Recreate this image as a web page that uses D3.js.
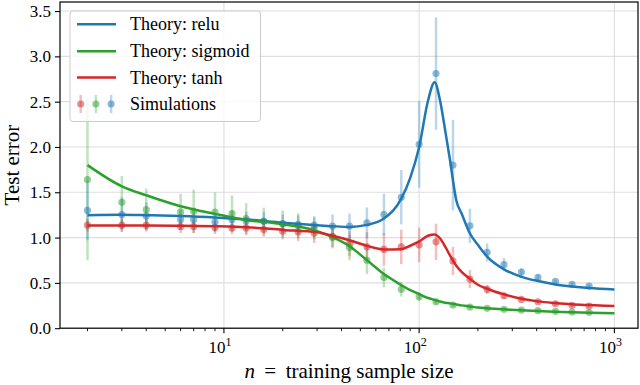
<!DOCTYPE html>
<html>
<head>
<meta charset="utf-8">
<script src="https://cdn.jsdelivr.net/npm/d3@7"></script>
<style>
  body { margin: 0; background: #fff; }
  svg { font-family: "Liberation Serif", "Times New Roman", serif; }
</style>
</head>
<body>
<svg id="chart" width="640" height="385"></svg>
<script>
// theory curves
const nTheory = [2, 3, 4, 6, 9, 13, 20, 30, 36, 44, 54, 66, 81, 90, 100, 111, 120, 128, 136, 144, 155, 165, 182, 200, 223, 272, 334, 406, 499, 607, 742, 1000];
const theoryRelu = [1.247, 1.252, 1.247, 1.238, 1.222, 1.2, 1.165, 1.137, 1.126, 1.118, 1.14, 1.21, 1.43, 1.66, 2.0, 2.51, 2.715, 2.51, 2.18, 1.85, 1.41, 1.265, 1.045, 0.92, 0.79, 0.65, 0.567, 0.52, 0.483, 0.46, 0.443, 0.428];
const theorySigmoid = [1.8, 1.566, 1.467, 1.346, 1.262, 1.195, 1.147, 1.072, 1.005, 0.905, 0.751, 0.597, 0.476, 0.42, 0.377, 0.333, 0.312, 0.295, 0.282, 0.274, 0.262, 0.252, 0.24, 0.228, 0.219, 0.208, 0.197, 0.189, 0.182, 0.175, 0.171, 0.164];
const theoryTanh = [1.133, 1.133, 1.133, 1.13, 1.125, 1.115, 1.085, 1.058, 1.02, 0.97, 0.909, 0.869, 0.872, 0.91, 0.958, 1.02, 1.035, 0.99, 0.9, 0.8, 0.69, 0.622, 0.545, 0.48, 0.435, 0.373, 0.325, 0.296, 0.277, 0.263, 0.255, 0.245];

// simulations (mean and half error bar)
const nSim = [2, 3, 4, 6, 7, 9, 11, 13, 16, 20, 24, 29, 36, 44, 54, 66, 81, 100, 122, 149, 182, 223, 272, 334, 406, 499, 607, 742];
const simRelu = [1.3, 1.254, 1.239, 1.2, 1.2, 1.173, 1.2, 1.184, 1.18, 1.155, 1.145, 1.137, 1.126, 1.126, 1.162, 1.254, 1.445, 2.03, 2.81, 1.8, 1.13, 0.836, 0.703, 0.619, 0.56, 0.516, 0.483, 0.465];
const errRelu = [0.33, 0.19, 0.15, 0.1, 0.1, 0.1, 0.1, 0.1, 0.1, 0.1, 0.1, 0.1, 0.13, 0.14, 0.17, 0.23, 0.3, 0.48, 0.62, 0.5, 0.19, 0.1, 0.07, 0.04, 0.03, 0.02, 0.02, 0.02];
const simSigmoid = [1.64, 1.39, 1.31, 1.283, 1.29, 1.28, 1.265, 1.21, 1.18, 1.15, 1.13, 1.1, 1.0, 0.89, 0.75, 0.56, 0.43, 0.347, 0.292, 0.255, 0.233, 0.219, 0.208, 0.2, 0.193, 0.186, 0.178, 0.175];
const errSigmoid = [0.89, 0.29, 0.23, 0.2, 0.24, 0.22, 0.2, 0.17, 0.15, 0.15, 0.14, 0.12, 0.12, 0.14, 0.15, 0.11, 0.08, 0.05, 0.03, 0.02, 0.02, 0.02, 0.02, 0.02, 0.02, 0.02, 0.02, 0.02];
const simTanh = [1.137, 1.137, 1.137, 1.12, 1.12, 1.11, 1.107, 1.107, 1.09, 1.07, 1.063, 1.05, 1.015, 0.935, 0.898, 0.869, 0.898, 0.92, 0.953, 0.743, 0.542, 0.428, 0.358, 0.318, 0.292, 0.27, 0.252, 0.244];
const errTanh = [0.07, 0.07, 0.07, 0.07, 0.07, 0.07, 0.07, 0.08, 0.08, 0.09, 0.1, 0.11, 0.12, 0.14, 0.16, 0.18, 0.19, 0.19, 0.2, 0.155, 0.1, 0.05, 0.03, 0.02, 0.02, 0.02, 0.02, 0.02];

const yTicks = [0, 0.5, 1.0, 1.5, 2.0, 2.5, 3.0, 3.5];
const xTicks = [10, 100, 1000];
const legendLabels = ["Theory: relu", "Theory: sigmoid", "Theory: tanh", "Simulations"];

const blue = "#1f77b4", green = "#2ca02c", red = "#d62728";

const series = [
  { name: "relu", color: blue, theory: theoryRelu, sim: simRelu, err: errRelu },
  { name: "sigmoid", color: green, theory: theorySigmoid, sim: simSigmoid, err: errSigmoid },
  { name: "tanh", color: red, theory: theoryTanh, sim: simTanh, err: errTanh },
];

const plotL = 60, plotR = 638, plotT = 2, plotB = 328.2;

const svg = d3.select("#chart");

const x = d3.scaleLog()
  .domain([Math.pow(10, 0.1603), Math.pow(10, 3.121)])
  .range([plotL, plotR]);
const y = d3.scaleLinear().domain([0, 3.6]).range([plotB, plotT]);

// grid
const grid = svg.append("g").attr("stroke", "#dedede").attr("stroke-width", 1.1);
grid.selectAll("line.gx").data(xTicks).enter().append("line")
  .attr("x1", (d) => x(d)).attr("x2", (d) => x(d))
  .attr("y1", plotT).attr("y2", plotB);
grid.selectAll("line.gy").data(yTicks).enter().append("line")
  .attr("y1", (d) => y(d)).attr("y2", (d) => y(d))
  .attr("x1", plotL).attr("x2", plotR);

// error bars then markers (drawn tanh, sigmoid, relu)
const simOrder = [series[2], series[1], series[0]];
simOrder.forEach((s) => {
  const g = svg.append("g");
  g.selectAll("line").data(nSim).enter().append("line")
    .attr("x1", (d) => x(d)).attr("x2", (d) => x(d))
    .attr("y1", (d, i) => y(s.sim[i] - s.err[i]))
    .attr("y2", (d, i) => y(s.sim[i] + s.err[i]))
    .attr("stroke", s.color).attr("stroke-opacity", 0.3).attr("stroke-width", 2.5);
});
simOrder.forEach((s) => {
  const g = svg.append("g").attr("opacity", 0.5);
  g.selectAll("circle").data(nSim).enter().append("circle")
    .attr("cx", (d) => x(d))
    .attr("cy", (d, i) => y(s.sim[i]))
    .attr("r", 3)
    .attr("fill", s.color)
    .attr("stroke", s.color).attr("stroke-width", 1.2);
});

// theory lines
const line = d3.line()
  .x((d) => x(d[0]))
  .y((d) => y(d[1]))
  .curve(d3.curveMonotoneX);

series.forEach((s) => {
  svg.append("path")
    .datum(nTheory.map((n, i) => [n, s.theory[i]]))
    .attr("d", line)
    .attr("fill", "none")
    .attr("stroke", s.color)
    .attr("stroke-width", 2.5);
});

// frame
svg.append("rect")
  .attr("x", plotL).attr("y", plotT)
  .attr("width", plotR - plotL).attr("height", plotB - plotT)
  .attr("fill", "none").attr("stroke", "#000").attr("stroke-width", 1.2);

// y axis
const yAxis = svg.append("g")
  .attr("transform", `translate(${plotL},0)`)
  .call(d3.axisLeft(y).tickValues(yTicks).tickFormat(d3.format(".1f")).tickSize(5).tickPadding(4));
yAxis.select(".domain").remove();
yAxis.selectAll("text").attr("font-size", 17).attr("fill", "#000")
  .attr("font-family", "Liberation Serif");
yAxis.selectAll("line").attr("stroke-width", 1.1);

// x axis, log with minor ticks
const minor = [];
[1, 10, 100, 1000].forEach((dec) => {
  for (let k = 2; k <= 9; k++) {
    const v = dec * k;
    if (v >= x.domain()[0] && v <= x.domain()[1]) minor.push(v);
  }
});
const xAxis = svg.append("g").attr("transform", `translate(0,${plotB})`);
xAxis.selectAll("line.minor").data(minor).enter().append("line")
  .attr("x1", (d) => x(d)).attr("x2", (d) => x(d))
  .attr("y1", 0).attr("y2", 3)
  .attr("stroke", "#000").attr("stroke-width", 0.9);
xAxis.selectAll("line.major").data(xTicks).enter().append("line")
  .attr("x1", (d) => x(d)).attr("x2", (d) => x(d))
  .attr("y1", 0).attr("y2", 5)
  .attr("stroke", "#000").attr("stroke-width", 1.1);
const xLab = xAxis.selectAll("text").data(xTicks).enter().append("text")
  .attr("x", (d) => x(d) - 4)
  .attr("y", 25)
  .attr("text-anchor", "middle")
  .attr("font-size", 17);
xLab.append("tspan").text("10");
xLab.append("tspan").attr("font-size", 12).attr("dy", -7)
  .text((d) => Math.round(Math.log10(d)));

// axis labels
const xTitle = svg.append("text")
  .attr("x", (plotL + plotR) / 2)
  .attr("y", 378)
  .attr("text-anchor", "middle")
  .attr("font-size", 21);
xTitle.append("tspan").attr("font-style", "italic").text("n");
xTitle.append("tspan").text("\u2009 = \u2009training sample size");

svg.append("text")
  .attr("transform", `translate(19,${(plotT + plotB) / 2}) rotate(-90)`)
  .attr("text-anchor", "middle")
  .attr("font-size", 21)
  .text("Test error");

// legend
const lg = svg.append("g");
lg.append("rect")
  .attr("x", 70).attr("y", 11)
  .attr("width", 190.5).attr("height", 110.5)
  .attr("rx", 3)
  .attr("fill", "#fff").attr("fill-opacity", 0.8)
  .attr("stroke", "#cccccc").attr("stroke-width", 1);

const rowY = [24.3, 51.2, 77.6, 104];
series.forEach((s, i) => {
  lg.append("line")
    .attr("x1", 77).attr("x2", 116)
    .attr("y1", rowY[i]).attr("y2", rowY[i])
    .attr("stroke", s.color).attr("stroke-width", 2.5);
});
[red, green, blue].forEach((c, i) => {
  const cx = 80.7 + i * 15.2;
  lg.append("line")
    .attr("x1", cx).attr("x2", cx)
    .attr("y1", rowY[3] - 9).attr("y2", rowY[3] + 9)
    .attr("stroke", c).attr("stroke-opacity", 0.3).attr("stroke-width", 2.5);
  lg.append("circle")
    .attr("cx", cx).attr("cy", rowY[3]).attr("r", 3)
    .attr("fill", c).attr("stroke", c).attr("stroke-width", 1.2)
    .attr("opacity", 0.5);
});
lg.selectAll("text").data(legendLabels).enter().append("text")
  .attr("x", 130)
  .attr("y", (d, i) => rowY[i])
  .attr("dy", "0.33em")
  .attr("font-size", 18)
  .text((d) => d);
</script>
</body>
</html>
